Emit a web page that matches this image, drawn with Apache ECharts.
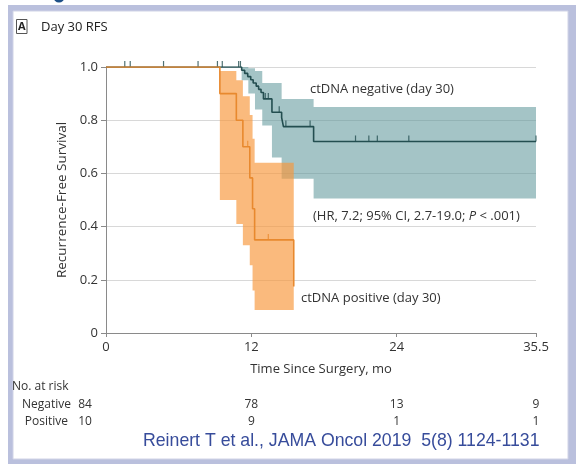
<!DOCTYPE html>
<html>
<head>
<meta charset="utf-8">
<script src="https://cdn.jsdelivr.net/npm/echarts@6/dist/echarts.min.js"></script>
<style>
  html, body { margin: 0; padding: 0; background: #fff; }
  #chart { width: 576px; height: 464px; }
</style>
</head>
<body>
<div id="chart"></div>
<script>
// Kaplan-Meier recurrence-free survival, day-30 ctDNA status

// ctDNA negative: step curve (time in months, survival)
const negTimes = [0, 11.2, 11.45, 11.7, 11.95, 12.15, 12.4, 12.6, 12.8, 13.0, 13.7, 14.5, 14.65, 17.14, 35.5];
const negSurv  = [1.0, 0.988, 0.976, 0.964, 0.952, 0.94, 0.928, 0.916, 0.904, 0.88, 0.83, 0.81, 0.776, 0.72, 0.72];
// censored observations, ctDNA negative
const negCensorT = [1.55, 2.0, 4.75, 7.6, 9.2, 9.6, 10.95, 11.1, 13.15, 13.4, 14.3, 14.85, 16.85, 20.6, 21.7, 22.4, 25.0, 35.5];
const negCensorS = [1.0, 1.0, 1.0, 1.0, 1.0, 1.0, 1.0, 1.0, 0.88, 0.88, 0.83, 0.776, 0.776, 0.72, 0.72, 0.72, 0.72, 0.72];
// 95% confidence band, ctDNA negative (interval start, lower, upper); last time closes the band
const negBandT  = [11.2, 11.75, 12.3, 12.9, 13.7, 14.5, 17.14, 35.5];
const negBandLo = [0.95, 0.90, 0.84, 0.78, 0.66, 0.58, 0.506];
const negBandHi = [1.0, 0.995, 0.985, 0.94, 0.94, 0.88, 0.85];

// ctDNA positive: step curve
const posTimes = [0, 9.4, 10.76, 11.3, 11.87, 12.1, 12.27, 15.5];
const posSurv  = [1.0, 0.9, 0.8, 0.7, 0.583, 0.467, 0.35, 0.175];
const posCensorT = [11.7, 13.4];
const posCensorS = [0.7, 0.35];
// 95% confidence band, ctDNA positive
const posBandT  = [9.4, 10.76, 11.3, 11.87, 12.1, 12.27, 15.5];
const posBandLo = [0.5, 0.41, 0.33, 0.255, 0.16, 0.086];
const posBandHi = [0.985, 0.95, 0.89, 0.82, 0.73, 0.64];

// axis ticks
const xTicks = [0, 12, 24, 35.5];

// number at risk
const riskGroups = ['Negative', 'Positive'];
const riskNegative = [84, 78, 13, 9];
const riskPositive = [10, 9, 1, 1];

const FONT = '"Open Sans", "Noto Sans", sans-serif';
const TEXT = '#333';
const FS = 13;

const chart = echarts.init(document.getElementById('chart'), null, { renderer: 'canvas' });

function bandSeries(name, times, lo, hi, fill, z) {
  return {
    name: name,
    type: 'custom',
    z: z,
    silent: true,
    data: [[times[0], lo[0]]],
    renderItem: function (params, api) {
      const upper = [];
      const lower = [];
      for (let i = 0; i < lo.length; i++) {
        upper.push(api.coord([times[i], hi[i]]));
        upper.push(api.coord([times[i + 1], hi[i]]));
        lower.push(api.coord([times[i], lo[i]]));
        lower.push(api.coord([times[i + 1], lo[i]]));
      }
      const pts = upper.concat(lower.reverse());
      return { type: 'polygon', shape: { points: pts }, style: { fill: fill } };
    }
  };
}

function pairs(a, b) { return a.map((v, i) => [v, b[i]]); }

const negColor = '#234e50';
const posColor = '#e8892e';

chart.setOption({
  animation: false,
  backgroundColor: 'transparent',
  grid: { left: 106, top: 67, right: 40, bottom: 131, containLabel: false },
  xAxis: {
    type: 'value', min: 0, max: 35.5,
    name: 'Time Since Surgery, mo', nameLocation: 'middle', nameGap: 30,
    nameTextStyle: { fontFamily: FONT, fontSize: FS, color: TEXT },
    axisLine: { show: true, lineStyle: { color: '#8a8a8a', width: 1 } },
    axisTick: { show: true, customValues: xTicks, length: 4, lineStyle: { color: '#8a8a8a' } },
    axisLabel: { customValues: xTicks, fontFamily: FONT, fontSize: FS, color: TEXT, margin: 8,
      formatter: v => String(v) },
    splitLine: { show: false }
  },
  yAxis: {
    type: 'value', min: 0, max: 1, interval: 0.2,
    name: 'Recurrence-Free Survival', nameLocation: 'middle', nameGap: 32,
    nameTextStyle: { fontFamily: FONT, fontSize: 13.5, color: TEXT },
    axisLine: { show: true, lineStyle: { color: '#8a8a8a', width: 1 } },
    axisTick: { show: true, length: 5, lineStyle: { color: '#8a8a8a' } },
    axisLabel: { fontFamily: FONT, fontSize: FS, color: TEXT, margin: 8,
      formatter: v => (v === 0 ? '0' : v.toFixed(1)) },
    splitLine: { show: true, lineStyle: { color: '#d8d8d8', width: 1 } }
  },
  series: [
    bandSeries('negBand', negBandT, negBandLo, negBandHi, 'rgba(92,150,154,0.56)', 1),
    bandSeries('posBand', posBandT, posBandLo, posBandHi, 'rgba(247,150,58,0.66)', 2),
    {
      name: 'ctDNA negative', type: 'line', step: 'end', z: 3,
      showSymbol: false, symbol: 'none',
      lineStyle: { color: negColor, width: 1.6 },
      data: pairs(negTimes, negSurv)
    },
    {
      name: 'negCensor', type: 'scatter', z: 3,
      symbol: 'rect', symbolSize: [1.2, 6], symbolOffset: [0, -3],
      itemStyle: { color: negColor },
      data: pairs(negCensorT, negCensorS)
    },
    {
      name: 'ctDNA positive', type: 'line', step: 'end', z: 4,
      showSymbol: false, symbol: 'none',
      lineStyle: { color: posColor, width: 1.6 },
      data: pairs(posTimes, posSurv)
    },
    {
      name: 'posCensor', type: 'scatter', z: 4,
      symbol: 'rect', symbolSize: [1.2, 6], symbolOffset: [0, -3],
      itemStyle: { color: posColor },
      data: pairs(posCensorT, posCensorS)
    }
  ]
});

// frame, panel title, annotations and the number-at-risk table
const gx = v => chart.convertToPixel({ xAxisIndex: 0 }, v);
const font = FS + 'px ' + FONT;
const tableFont = '12px ' + FONT;

const graphics = [
  { type: 'rect', z: -10, shape: { x: 8, y: 5, width: 568, height: 459 }, style: { fill: '#bac0dd' } },
  { type: 'rect', z: -9, shape: { x: 13, y: 11, width: 555, height: 448 }, style: { fill: '#ffffff', stroke: '#d0d3e6', lineWidth: 1 } },
  { type: 'circle', z: -8, shape: { cx: 59, cy: -3, r: 5.5 }, style: { fill: '#1d4f86' } },
  { type: 'rect', shape: { x: 16.5, y: 19.5, width: 10.5, height: 14 }, style: { fill: 'none', stroke: '#555', lineWidth: 1 } },
  { type: 'text', x: 21.8, y: 26.8, style: { text: 'A', font: 'bold 11px ' + FONT, fill: '#222', align: 'center', verticalAlign: 'middle' } },
  { type: 'text', x: 41, y: 27, style: { text: 'Day 30 RFS', font: font, fill: '#222', verticalAlign: 'middle' } },
  { type: 'text', x: 310, y: 89, style: { text: 'ctDNA negative (day 30)', font: font, fill: TEXT, verticalAlign: 'middle' } },
  { type: 'text', x: 313, y: 216, style: {
      text: '(HR, 7.2; 95% CI, 2.7-19.0; {i|P} < .001)', font: font, fill: TEXT, verticalAlign: 'middle',
      rich: { i: { fontStyle: 'italic', fontFamily: FONT, fontSize: FS, fill: TEXT } } } },
  { type: 'text', x: 301, y: 298, style: { text: 'ctDNA positive (day 30)', font: font, fill: TEXT, verticalAlign: 'middle' } },
  { type: 'text', x: 12, y: 387, style: { text: 'No. at risk', font: tableFont, fill: TEXT, verticalAlign: 'middle' } },
  { type: 'text', x: 71, y: 405, style: { text: riskGroups[0], font: tableFont, fill: TEXT, align: 'right', verticalAlign: 'middle' } },
  { type: 'text', x: 68, y: 422, style: { text: riskGroups[1], font: tableFont, fill: TEXT, align: 'right', verticalAlign: 'middle' } },
  { type: 'text', x: 143, y: 441, style: { text: 'Reinert T et al., JAMA Oncol 2019  5(8) 1124-1131',
      font: '17.7px "Liberation Sans", Arial, sans-serif', fill: '#374c9b', verticalAlign: 'middle' } }
];

const riskCols = [85].concat(xTicks.slice(1).map(gx));
riskCols.forEach((cx, i) => {
  graphics.push({ type: 'text', x: cx, y: 405, style: { text: String(riskNegative[i]), font: tableFont, fill: TEXT, align: 'center', verticalAlign: 'middle' } });
  graphics.push({ type: 'text', x: cx, y: 422, style: { text: String(riskPositive[i]), font: tableFont, fill: TEXT, align: 'center', verticalAlign: 'middle' } });
});

chart.setOption({ graphic: graphics });
</script>
</body>
</html>
